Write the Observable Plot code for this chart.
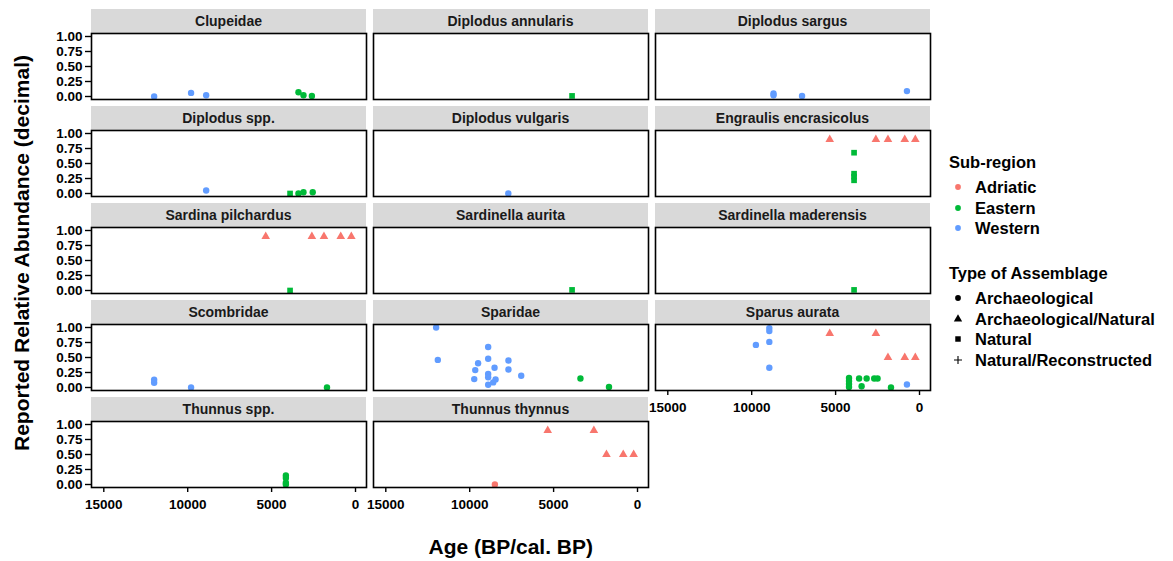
<!DOCTYPE html>
<html><head><meta charset="utf-8">
<script src="https://cdn.jsdelivr.net/npm/d3@7"></script>
<script src="https://cdn.jsdelivr.net/npm/@observablehq/plot@0.6"></script>
<style>
body{margin:0;background:#fff;font-family:"Liberation Sans",Arial,sans-serif;}
#chart{position:relative;width:1173px;height:561px;overflow:hidden;background:#fff;}
.strip{position:absolute;background:#D9D9D9;color:#1A1A1A;font-weight:bold;font-size:14px;text-align:center;line-height:24px;height:24px;white-space:nowrap;}
.panel{position:absolute;}
.title{position:absolute;font-weight:bold;font-size:21px;color:#000;white-space:nowrap;}
.lg{position:absolute;font-weight:bold;font-size:16.5px;color:#000;white-space:nowrap;line-height:20px;}
.lgsym{position:absolute;}
</style></head>
<body><div id="chart"></div>
<script>
// ---------- data ----------
const taxa = ["Clupeidae","Diplodus annularis","Diplodus sargus","Diplodus spp.","Diplodus vulgaris",
  "Engraulis encrasicolus","Sardina pilchardus","Sardinella aurita","Sardinella maderensis",
  "Scombridae","Sparidae","Sparus aurata","Thunnus spp.","Thunnus thynnus"];
const regions = ["Adriatic","Eastern","Western"];
const regionCodes = {A:"Adriatic", E:"Eastern", W:"Western"};
const regionColors = ["#F8766D","#00BA38","#619CFF"];
const assemblageTypes = ["Archaeological","Archaeological/Natural","Natural","Natural/Reconstructed"];
const typeCodes = {A:"Archaeological", AN:"Archaeological/Natural", N:"Natural", NR:"Natural/Reconstructed"};
const xTicks = [15000, 10000, 5000, 0];
const yTicks = [0, 0.25, 0.5, 0.75, 1];

// per taxon: ages (BP), reported relative abundance, sub-region code, assemblage type code
const ages = [
  [12000, 9800, 8900, 3400, 3100, 2600],
  [3900],
  [8700, 8700, 7000, 750],
  [8900, 3900, 3400, 3100, 2550],
  [7700],
  [5350, 2600, 1880, 880, 250, 3900, 3900, 3900, 3900],
  [5350, 2600, 1880, 880, 250, 3900],
  [3900],
  [3900],
  [12000, 12000, 9800, 1700],
  [12000, 11900, 8900, 8900, 9500, 9670, 8520, 7690, 7690, 8900, 8900, 9730, 8460, 8600, 8900, 6930, 3400, 1700],
  [8950, 8950, 9750, 8950, 8950, 750, 5350, 2600, 1880, 880, 250, 4200, 4200, 4200, 4200, 3600, 3150, 2700, 2500, 3450, 1700],
  [4150, 4150, 4150, 4150],
  [5350, 2600, 1850, 850, 230, 8500]
];
const abundances = [
  [0.00, 0.06, 0.02, 0.07, 0.02, 0.01],
  [0.01],
  [0.05, 0.02, 0.01, 0.09],
  [0.05, 0.00, 0.00, 0.02, 0.02],
  [0.00],
  [0.90, 0.90, 0.90, 0.90, 0.90, 0.68, 0.33, 0.28, 0.22],
  [0.90, 0.90, 0.90, 0.90, 0.90, 0.00],
  [0.01],
  [0.01],
  [0.13, 0.08, 0.00, 0.00],
  [1.00, 0.46, 0.675, 0.48, 0.405, 0.29, 0.33, 0.45, 0.30, 0.225, 0.17, 0.14, 0.135, 0.085, 0.045, 0.197, 0.15, 0.01],
  [0.99, 0.94, 0.71, 0.76, 0.33, 0.05, 0.90, 0.90, 0.50, 0.50, 0.50, 0.16, 0.11, 0.06, 0.01, 0.15, 0.15, 0.15, 0.15, 0.02, 0.00],
  [0.15, 0.11, 0.03, 0.00],
  [0.90, 0.90, 0.50, 0.50, 0.50, 0.00]
];
const regionOf = [
  ["W","W","W","E","E","E"],
  ["E"],
  ["W","W","W","W"],
  ["W","E","E","E","E"],
  ["W"],
  ["A","A","A","A","A","E","E","E","E"],
  ["A","A","A","A","A","E"],
  ["E"],
  ["E"],
  ["W","W","W","E"],
  ["W","W","W","W","W","W","W","W","W","W","W","W","W","W","W","W","E","E"],
  ["W","W","W","W","W","W","A","A","A","A","A","E","E","E","E","E","E","E","E","E","E"],
  ["E","E","E","E"],
  ["A","A","A","A","A","A"]
];
const typeOf = [
  ["A","A","A","A","A","A"],
  ["N"],
  ["A","A","A","A"],
  ["A","N","A","A","A"],
  ["A"],
  ["AN","AN","AN","AN","AN","N","N","N","N"],
  ["AN","AN","AN","AN","AN","N"],
  ["N"],
  ["N"],
  ["A","A","A","A"],
  ["A","A","A","A","A","A","A","A","A","A","A","A","A","A","A","A","A","A"],
  ["A","A","A","A","A","A","AN","AN","AN","AN","AN","A","A","A","A","A","A","A","A","A","A"],
  ["A","A","A","A"],
  ["AN","AN","AN","AN","AN","A"]
];

// ---------- layout ----------
const panelW = 275, panelH = 66, stripH = 24;
const colLeft = [91, 373, 655];
const stripTop = [9, 106, 203, 300, 397];
const mL = 50, mR = 6, mT = 4, mB = 34;
const ncol = 3, nrow = 5;
const symbolRange = ["circle","triangle","square","plus"];

const chart = document.getElementById("chart");

taxa.forEach((name, i) => {
  const col = i % ncol, row = Math.floor(i / ncol);
  const below = i + ncol;
  const showX = below >= taxa.length;
  const showY = col === 0;
  const left = colLeft[col], sTop = stripTop[row], pTop = sTop + stripH;

  const strip = document.createElement("div");
  strip.className = "strip";
  strip.style.left = left + "px"; strip.style.top = sTop + "px"; strip.style.width = panelW + "px";
  strip.textContent = name;
  chart.appendChild(strip);

  const data = ages[i].map((a, k) => ({
    age: a, abundance: abundances[i][k],
    region: regionCodes[regionOf[i][k]], type: typeCodes[typeOf[i][k]]
  }));

  const svg = Plot.plot({
    width: panelW + mL + mR, height: panelH + mT + mB,
    marginLeft: mL, marginRight: mR, marginTop: mT, marginBottom: mB,
    style: {color: "#000", fontFamily: "'Liberation Sans', Arial, sans-serif", background: "transparent", overflow: "visible"},
    x: {domain: [15733, -655], axis: null},
    y: {domain: [-0.05, 1.05], axis: null},
    color: {domain: regions, range: regionColors},
    symbol: {domain: assemblageTypes, range: symbolRange},
    marks: [
      showY ? Plot.axisY(yTicks, {anchor: "left", tickFormat: d3.format(".2f"), tickSize: 6, tickPadding: 3,
        fontSize: 13.5, fontWeight: "bold", strokeWidth: 1.4, label: null}) : null,
      showX ? Plot.axisX(xTicks, {anchor: "bottom", tickFormat: d3.format("d"), tickSize: 5, tickPadding: 7,
        fontSize: 13.5, fontWeight: "bold", strokeWidth: 1.4, label: null}) : null,
      Plot.dot(data, {x: "age", y: "abundance", fill: "region", symbol: "type", r: 3.2}),
      Plot.frame({stroke: "#000", strokeWidth: 1.6})
    ]
  });
  const wrap = document.createElement("div");
  wrap.className = "panel";
  wrap.style.left = (left - mL) + "px"; wrap.style.top = (pTop - mT) + "px";
  wrap.appendChild(svg);
  chart.appendChild(wrap);
});

// axis titles
const xt = document.createElement("div");
xt.className = "title"; xt.textContent = "Age (BP/cal. BP)";
chart.appendChild(xt);
xt.style.left = (511 - xt.offsetWidth / 2) + "px"; xt.style.top = (547 - xt.offsetHeight / 2) + "px";

const yt = document.createElement("div");
yt.className = "title"; yt.textContent = "Reported Relative Abundance (decimal)";
chart.appendChild(yt);
yt.style.left = (22 - yt.offsetWidth / 2) + "px"; yt.style.top = (253 - yt.offsetHeight / 2) + "px";
yt.style.transform = "rotate(-90deg)";

// legends
function lgText(txt, x, cy) {
  const d = document.createElement("div");
  d.className = "lg"; d.textContent = txt;
  d.style.left = x + "px"; d.style.top = (cy - 10) + "px";
  chart.appendChild(d);
}
function lgSym(shape, fill, cx, cy) {
  const ns = "http://www.w3.org/2000/svg";
  const s = document.createElementNS(ns, "svg");
  s.setAttribute("width", 14); s.setAttribute("height", 14);
  s.setAttribute("class", "lgsym");
  s.style.left = (cx - 7) + "px"; s.style.top = (cy - 7) + "px";
  const symMap = {circle: d3.symbolCircle, triangle: d3.symbolTriangle, square: d3.symbolSquare, plus: d3.symbolCross};
  const p = document.createElementNS(ns, "path");
  if (shape === "plus") {
    p.setAttribute("d", "M7,3V11M3,7H11");
    p.setAttribute("stroke", fill); p.setAttribute("stroke-width", 1.1); p.setAttribute("fill", "none");
  } else {
    p.setAttribute("d", d3.symbol(symMap[shape], shape === "circle" ? 26 : 30)());
    p.setAttribute("transform", "translate(7,7)");
    p.setAttribute("fill", fill);
  }
  s.appendChild(p);
  chart.appendChild(s);
}
lgText("Sub-region", 949, 162);
regions.forEach((r, k) => {
  const cy = 187 + k * 20.5;
  lgSym("circle", regionColors[k], 958, cy);
  lgText(r, 975, cy);
});
lgText("Type of Assemblage", 949, 273);
assemblageTypes.forEach((t, k) => {
  const cy = 298 + k * 20.7;
  lgSym(symbolRange[k], "#000", 958, cy);
  lgText(t, 975, cy);
});
</script>
</body></html>
